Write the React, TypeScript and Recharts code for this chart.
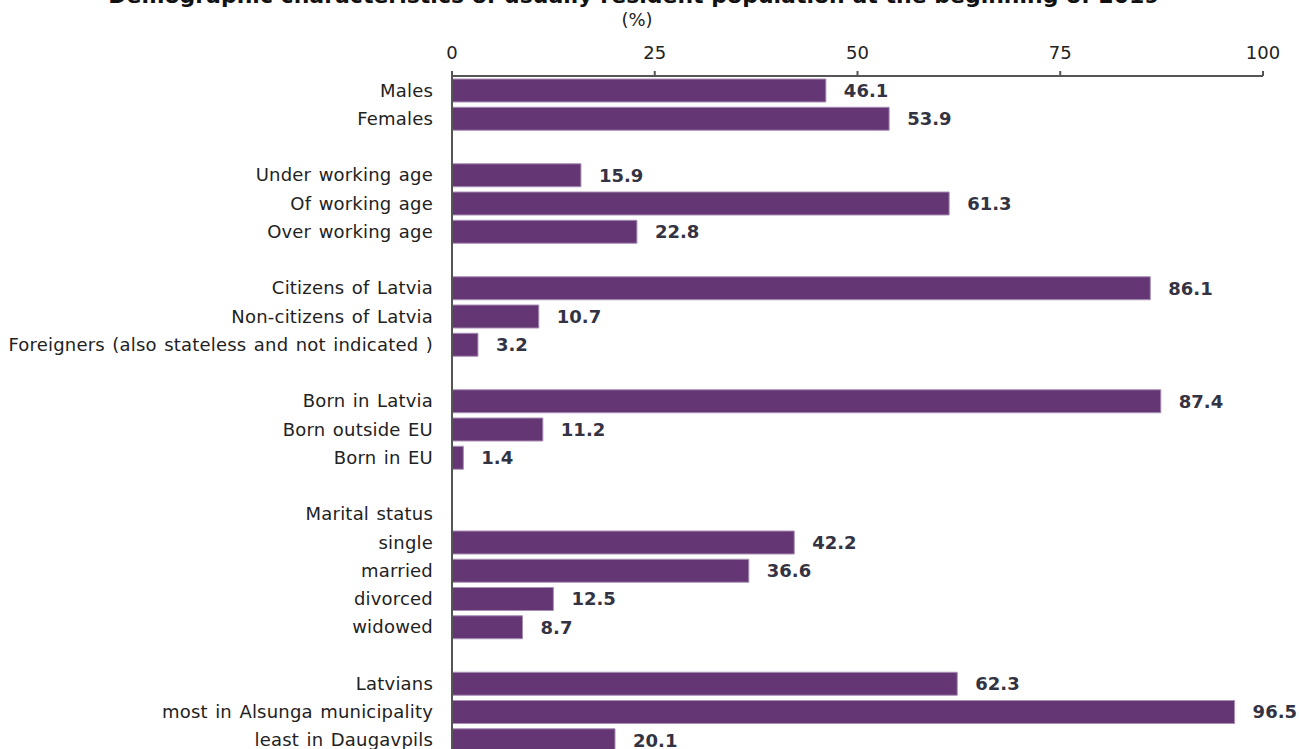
import { BarChart, Bar, XAxis, YAxis, LabelList } from "recharts";

// rows of the chart, empty strings are spacer rows between the groups
const categories = [
  "Males",
  "Females",
  "",
  "Under working age",
  "Of working age",
  "Over working age",
  "",
  "Citizens of Latvia",
  "Non-citizens of Latvia",
  "Foreigners (also stateless and not indicated )",
  "",
  "Born in Latvia",
  "Born outside EU",
  "Born in EU",
  "",
  "Marital status",
  "single",
  "married",
  "divorced",
  "widowed",
  "",
  "Latvians",
  "most in Alsunga municipality",
  "least in Daugavpils",
];

const shares: (number | null)[] = [
  46.1, 53.9, null,
  15.9, 61.3, 22.8, null,
  86.1, 10.7, 3.2, null,
  87.4, 11.2, 1.4, null,
  null, 42.2, 36.6, 12.5, 8.7, null,
  62.3, 96.5, 20.1,
];

const xTicks = [0, 25, 50, 75, 100];

const FONT = "Verdana, 'DejaVu Sans', sans-serif";

export default function App() {
  const data = categories.map((name, i) => ({ id: i, name, value: shares[i] }));

  const renderLabel = (props: any) => {
    const { x, y, width, height, value } = props;
    if (value === null || value === undefined) return null;
    return (
      <text
        x={x + width + 18}
        y={y + height / 2}
        dy="0.36em"
        fontFamily={FONT}
        fontSize={18}
        fontWeight="bold"
        fill="#333344"
      >
        {value.toFixed(1)}
      </text>
    );
  };

  return (
    <div style={{ position: "fixed", left: 0, top: 0, width: 1299, height: 749, overflow: "hidden", background: "#fff" }}>
      <svg width={1299} height={40} style={{ position: "absolute", left: 0, top: 0 }}>
        <text x={634} y={3} textAnchor="middle" fontFamily={FONT} fontSize={22} fontWeight="bold" fill="#111">
          Demographic characteristics of usually resident population at the beginning of 2019
        </text>
        <text x={637} y={26} textAnchor="middle" fontFamily={FONT} fontSize={18} fill="#222">
          (%)
        </text>
      </svg>
      <BarChart
        width={1299}
        height={770}
        data={data}
        layout="vertical"
        margin={{ top: 46, right: 36, bottom: 16, left: 0 }}
        barSize={23}
      >
        <XAxis
          type="number"
          orientation="top"
          domain={[0, 100]}
          ticks={xTicks}
          height={30}
          tickSize={5}
          tickMargin={12}
          axisLine={{ stroke: "#555", strokeWidth: 2 }}
          tickLine={{ stroke: "#555", strokeWidth: 2 }}
          tick={{ fontFamily: FONT, fontSize: 18, fill: "#222" }}
        />
        <YAxis
          type="category"
          dataKey="id"
          width={452}
          tickFormatter={(i: number) => categories[i]}
          interval={0}
          tickLine={false}
          tickSize={0}
          tickMargin={19}
          axisLine={{ stroke: "#555", strokeWidth: 2 }}
          tick={{
            fontFamily: FONT,
            fontSize: 18,
            fill: "#222",
            style: { letterSpacing: "0.2px", wordSpacing: "1.5px" },
          }}
        />
        <Bar dataKey="value" fill="#643673" stroke="#a890b4" strokeWidth={1} isAnimationActive={false}>
          <LabelList dataKey="value" content={renderLabel} />
        </Bar>
      </BarChart>
    </div>
  );
}
